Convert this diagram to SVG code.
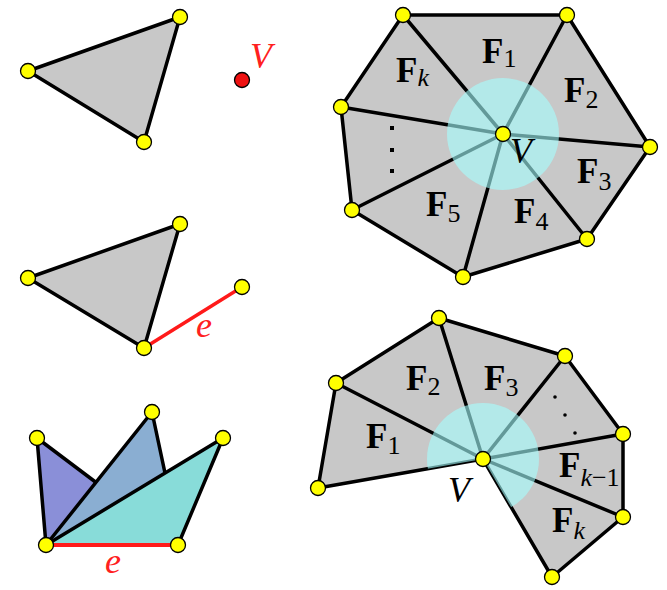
<svg xmlns="http://www.w3.org/2000/svg" width="667" height="590" viewBox="0 0 667 590">
<style>
.face{fill:#c8c8c8;stroke:#000;stroke-width:3.5;stroke-linejoin:round}
.edge{fill:none;stroke:#000;stroke-width:3.5;stroke-linecap:round}
.node{fill:#ffff00;stroke:#000;stroke-width:1.3}
.disc{fill:rgb(165,255,255);fill-opacity:0.6}
.F{font-family:"Liberation Serif","DejaVu Serif",serif;font-weight:bold;font-size:35px;fill:#000}
.sub{font-family:"Liberation Serif","DejaVu Serif",serif;font-weight:normal;font-size:26px;fill:#000}
.it{font-style:italic}
.lbl{font-family:"Liberation Serif","DejaVu Serif",serif;font-style:italic;font-size:36px}
.red{fill:#ff2020}
</style>
<defs>
<clipPath id="fanclip"><polygon points="483,459 318,488 336,383 439,318 565,356 623,434 623,517 552,577"/></clipPath>
</defs>

<g id="fig-triangle-vertex">
<polygon class="face" points="28,71 180,17 144,142"/>
<circle class="node" cx="28" cy="71" r="7.5"/>
<circle class="node" cx="180" cy="17" r="7.5"/>
<circle class="node" cx="144" cy="142" r="7.5"/>
<circle cx="242" cy="80" r="7.5" fill="#ee1111" stroke="#000" stroke-width="1.3"/>
<text class="lbl red" x="250" y="68">V</text>
</g>

<g id="fig-triangle-edge">
<polygon class="face" points="28,278 180,224 144,348"/>
<line x1="144" y1="348" x2="242" y2="287" stroke="#ff1a1a" stroke-width="3.5"/>
<circle class="node" cx="28" cy="278" r="7.5"/>
<circle class="node" cx="180" cy="224" r="7.5"/>
<circle class="node" cx="144" cy="348" r="7.5"/>
<circle class="node" cx="242" cy="287" r="7.5"/>
<text class="lbl red" x="196" y="337">e</text>
</g>

<g id="fig-edge-fan">
<polygon points="46,545 37,438 130,508" fill="#8a8fd8" stroke="#000" stroke-width="3.5" stroke-linejoin="round"/>
<polygon points="46,545 152,412 175,520" fill="#8aaed2" stroke="#000" stroke-width="3.5" stroke-linejoin="round"/>
<polygon points="46,545 223,438 178,545" fill="#88dcd9" stroke="#000" stroke-width="3.5" stroke-linejoin="round"/>
<line x1="46" y1="545" x2="178" y2="545" stroke="#ff1a1a" stroke-width="4"/>
<circle class="node" cx="37" cy="438" r="7.5"/>
<circle class="node" cx="152" cy="412" r="7.5"/>
<circle class="node" cx="223" cy="438" r="7.5"/>
<circle class="node" cx="46" cy="545" r="7.5"/>
<circle class="node" cx="178" cy="545" r="7.5"/>
<text class="lbl red" x="105" y="573">e</text>
</g>

<g id="fig-closed-fan">
<polygon class="face" points="403,15 567,15 650,147 587,239 463,277 352,210 341,107"/>
<g class="edges">
<line class="edge" x1="503" y1="134" x2="403" y2="15"/>
<line class="edge" x1="503" y1="134" x2="567" y2="15"/>
<line class="edge" x1="503" y1="134" x2="650" y2="147"/>
<line class="edge" x1="503" y1="134" x2="587" y2="239"/>
<line class="edge" x1="503" y1="134" x2="463" y2="277"/>
<line class="edge" x1="503" y1="134" x2="352" y2="210"/>
<line class="edge" x1="503" y1="134" x2="341" y2="107"/>
</g>
<circle class="disc" cx="503" cy="134" r="56"/>
<circle class="node" cx="403" cy="15" r="7.5"/>
<circle class="node" cx="567" cy="15" r="7.5"/>
<circle class="node" cx="650" cy="147" r="7.5"/>
<circle class="node" cx="587" cy="239" r="7.5"/>
<circle class="node" cx="463" cy="277" r="7.5"/>
<circle class="node" cx="352" cy="210" r="7.5"/>
<circle class="node" cx="341" cy="107" r="7.5"/>
<circle class="node" cx="503" cy="134" r="7.5"/>
<text class="F" x="482" y="63">F<tspan class="sub" dy="4">1</tspan></text>
<text class="F" x="396" y="82">F<tspan class="sub it" dy="4">k</tspan></text>
<text class="F" x="564" y="102">F<tspan class="sub" dy="6">2</tspan></text>
<text class="F" x="577" y="183">F<tspan class="sub" dy="7">3</tspan></text>
<text class="F" x="514" y="223">F<tspan class="sub" dy="7">4</tspan></text>
<text class="F" x="426" y="216">F<tspan class="sub" dy="6">5</tspan></text>
<rect x="390" y="126" width="4" height="4"/>
<rect x="390" y="148" width="4" height="4"/>
<rect x="390" y="169" width="4" height="4"/>
<text class="lbl" x="510" y="163" fill="#000">V</text>
</g>

<g id="fig-open-fan">
<polygon class="face" points="483,459 318,488 336,383 439,318 565,356 623,434 623,517 552,577"/>
<g class="edges">
<line class="edge" x1="483" y1="459" x2="336" y2="383"/>
<line class="edge" x1="483" y1="459" x2="439" y2="318"/>
<line class="edge" x1="483" y1="459" x2="565" y2="356"/>
<line class="edge" x1="483" y1="459" x2="623" y2="434"/>
<line class="edge" x1="483" y1="459" x2="623" y2="517"/>
</g>
<circle class="disc" cx="483" cy="459" r="56" clip-path="url(#fanclip)"/>
<circle class="node" cx="318" cy="488" r="7.5"/>
<circle class="node" cx="336" cy="383" r="7.5"/>
<circle class="node" cx="439" cy="318" r="7.5"/>
<circle class="node" cx="565" cy="356" r="7.5"/>
<circle class="node" cx="623" cy="434" r="7.5"/>
<circle class="node" cx="623" cy="517" r="7.5"/>
<circle class="node" cx="552" cy="577" r="7.5"/>
<circle class="node" cx="483" cy="459" r="7.5"/>
<text class="F" x="366" y="448">F<tspan class="sub" dy="6">1</tspan></text>
<text class="F" x="406" y="390">F<tspan class="sub" dy="5">2</tspan></text>
<text class="F" x="484" y="390">F<tspan class="sub" dy="6">3</tspan></text>
<text class="F" x="559" y="477">F<tspan class="sub" dy="9"><tspan class="it">k</tspan>−1</tspan></text>
<text class="F" x="552" y="532">F<tspan class="sub it" dy="7">k</tspan></text>
<circle cx="555" cy="397" r="1.8"/>
<circle cx="565" cy="415" r="1.8"/>
<circle cx="575" cy="433" r="1.8"/>
<text class="lbl" x="448" y="502" fill="#000">V</text>
</g>
</svg>
